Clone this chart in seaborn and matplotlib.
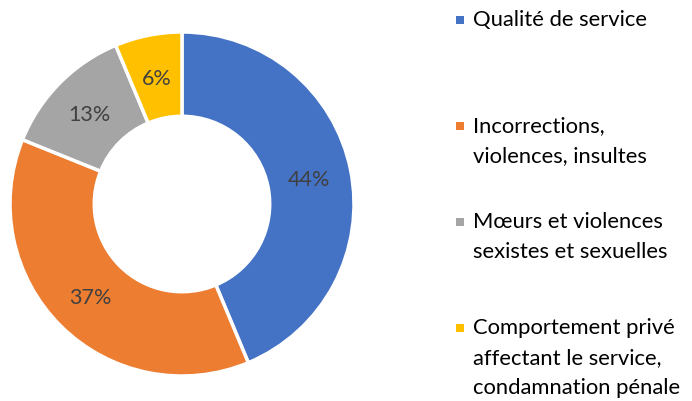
import matplotlib
matplotlib.use("Agg")
import matplotlib.pyplot as plt
import matplotlib.patches as mpatches
import seaborn as sns

# Données
categories = [
    "Qualité de service",
    "Incorrections,\nviolences, insultes",
    "Mœurs et violences\nsexistes et sexuelles",
    "Comportement privé\naffectant le service,\ncondamnation pénale",
]
values = [43.7, 37.4, 12.6, 6.3]
colors = ["#4472C4", "#ED7D31", "#A5A5A5", "#FFC000"]

sns.set_theme(style="white")
plt.rcParams['font.family'] = ['Lato', 'DejaVu Sans']

W, H = 692, 401
fig = plt.figure(figsize=(W / 100, H / 100), dpi=100)

# Anneau : centre (182, 204) px, rayon 172 px
cx, cy, r = 182, 204, 172
ax = fig.add_axes([(cx - r) / W, (H - cy - r) / H, 2 * r / W, 2 * r / H])
wedges, texts, autotexts = ax.pie(
    values, colors=colors, startangle=90, counterclock=False,
    wedgeprops=dict(width=0.49, edgecolor="white", linewidth=2.5),
    autopct=lambda p: f"{p:.0f}%", pctdistance=0.755,
    textprops=dict(color="#404040", fontsize=15.5, va="center_baseline"),
)
ax.set_xlim(-1, 1)
ax.set_ylim(-1, 1)
ax.set_aspect("equal")
ax.axis("off")

# Légende manuelle (marqueur aligné sur la première ligne)
entry_y = [20, 126, 222, 328]
for label, col, y in zip(categories, colors, entry_y):
    fig.patches.append(mpatches.Rectangle(
        (456 / W, (H - y - 4) / H), 8 / W, 8 / H,
        transform=fig.transFigure, facecolor=col, edgecolor="none"))
    fig.text(473 / W, (H - y + 10) / H, label, fontsize=15.8, color="#000000",
             va="top", ha="left", linespacing=1.62)

fig.savefig("out.png", dpi=100, facecolor="white")
